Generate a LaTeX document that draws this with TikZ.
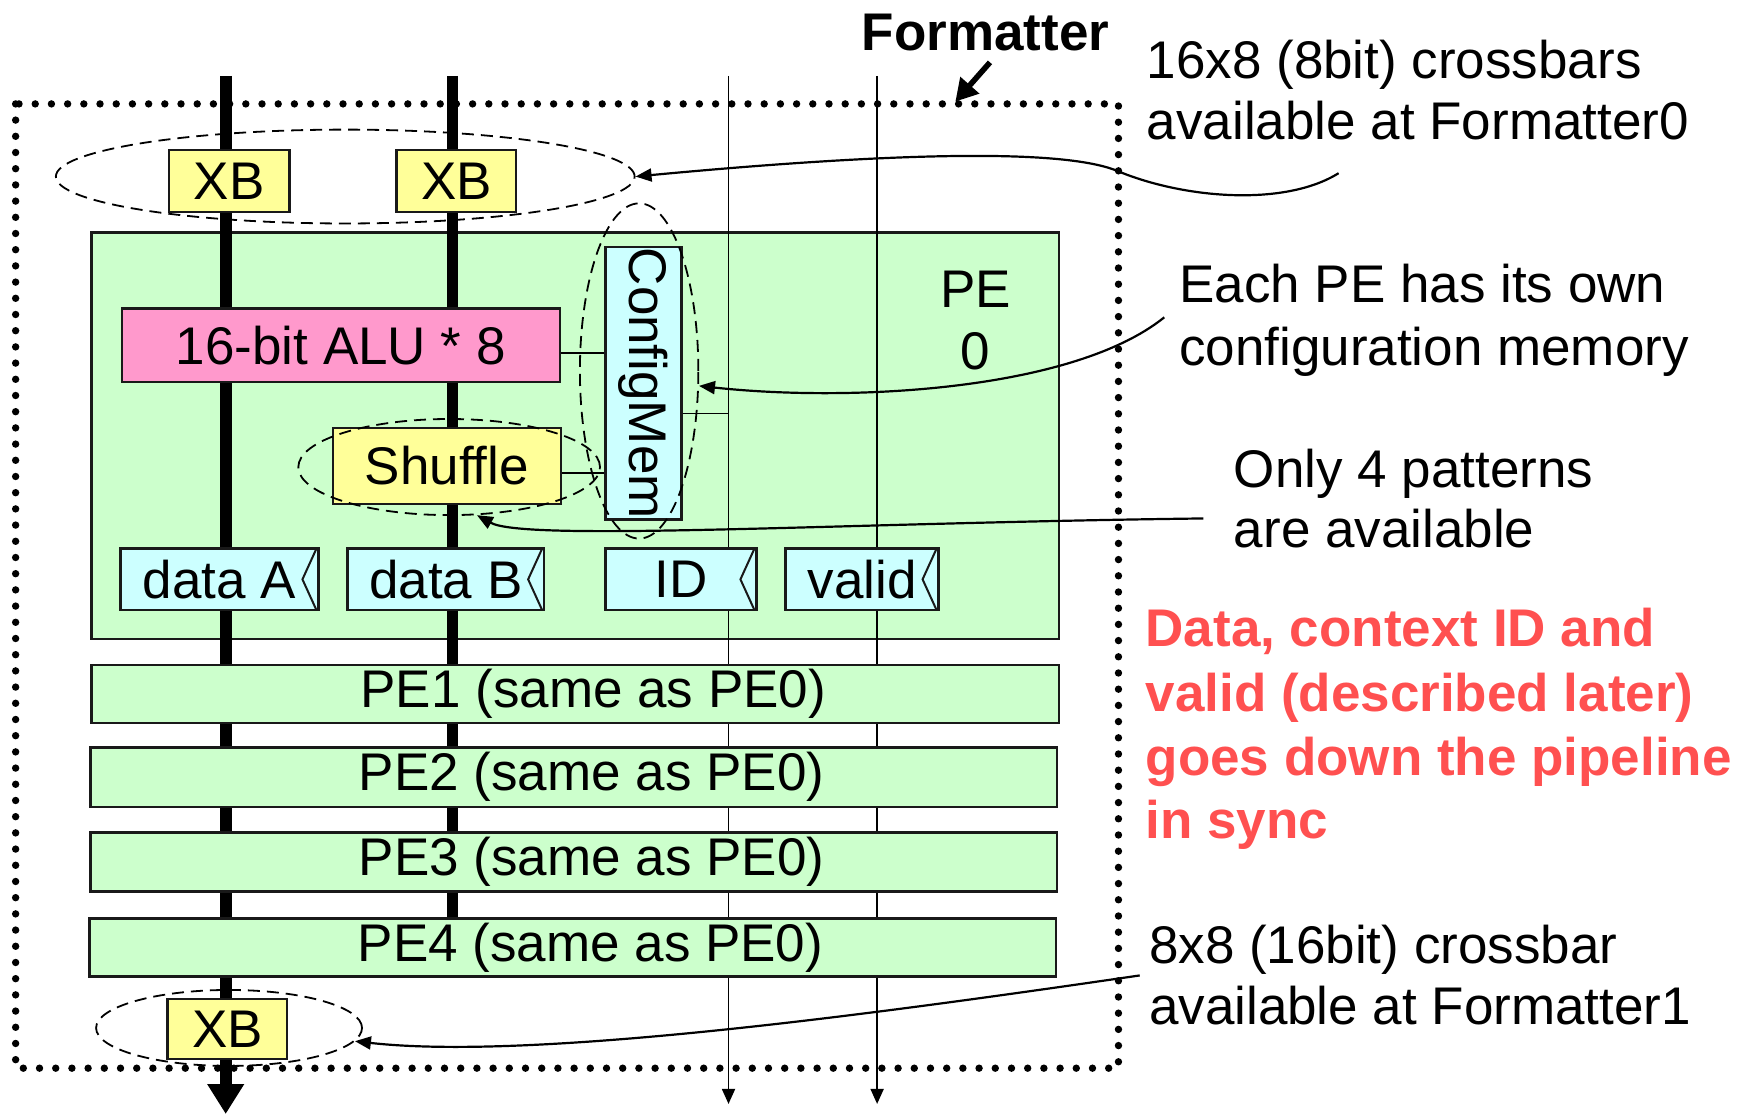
\documentclass[tikz,border=0pt]{standalone}
\usepackage{fontspec}
\setmainfont{Liberation Sans}
\usetikzlibrary{arrows.meta,shapes.geometric,calc}
\definecolor{peGreen}{HTML}{CCFFCC}
\definecolor{xbYellow}{HTML}{FFFF99}
\definecolor{aluPink}{HTML}{FF99CC}
\definecolor{memCyan}{HTML}{CCFFFF}
\definecolor{noteRed}{HTML}{FF5050}
\newcommand\txtfont{\fontsize{26.5}{31.3}\selectfont}
\begin{document}
\begin{tikzpicture}[x=0.5587pt,y=-0.5587pt,
  sz/.style 2 args={minimum width={#1*0.5587pt},minimum height={#2*0.5587pt}},
  box/.style={draw=black!90,line width=1.2pt,inner sep=0pt,font=\txtfont},
  clk/.style={path picture={\draw[line width=1pt] ([xshift=-1pt]path picture bounding box.north east) -- ([xshift=-8pt]path picture bounding box.east) -- ([xshift=-1pt]path picture bounding box.south east);}},
  bus/.style={line width=5.8pt},
  wire/.style={line width=0.9pt},
  note/.style={anchor=base west,inner sep=0pt,font=\txtfont},
  rednote/.style={anchor=base west,inner sep=0pt,font=\txtfont\bfseries,text=noteRed},
  grp/.style={ellipse,draw,dash pattern=on 6pt off 3.5pt,line width=0.9pt,inner sep=0pt},
  callout/.style={line width=1.1pt,-{Triangle[length=8pt,width=6.5pt]}},
  tiny tip/.style={-{Triangle[length=7.5pt,width=6.5pt]}}
]
\useasboundingbox (0,0) rectangle (1568,997);

% dotted Formatter border
\draw[line width=3.7pt,line cap=round,dash pattern=on 0pt off 8.1pt] (14,93) rectangle (1001,956);

% PE0 background
\node[box,fill=peGreen,sz={866}{364}] (pe0) at (515,390) {};
\node[font=\txtfont,align=center,inner sep=0pt] (pe0lbl) at (873,287) {PE\\0};

% buses and signal lines
\coordinate (aTop) at (202,68);  \coordinate (aBot) at (202,997);
\coordinate (bTop) at (405,68);  \coordinate (bBot) at (405,848);
\coordinate (idTop) at (652,68); \coordinate (idBot) at (652,988);
\coordinate (vTop) at (785,68);  \coordinate (vBot) at (785,988);
\draw[bus,-{Triangle[length=15pt,width=17.5pt]}] (aTop) -- (aBot);
\draw[bus] (bTop) -- (bBot);
\draw[wire,tiny tip] (idTop) -- (idBot);
\draw[wire,tiny tip] (vTop) -- (vBot);

% crossbars
\node[box,fill=xbYellow,sz={108}{56}] (xbA) at (205,162) {XB};
\node[box,fill=xbYellow,sz={107}{56}] (xbB) at (408.5,162) {XB};
\node[box,fill=xbYellow,sz={107}{54}] (xbC) at (203.5,921) {XB};

% PE0 internals
\node[box,fill=aluPink,sz={392}{66}] (alu) at (305,309) {16-bit ALU * 8};
\node[box,fill=memCyan,sz={244}{68},rotate=-90] (cfg) at (576,343) {ConfigMem};
\node[box,fill=xbYellow,sz={204}{68}] (shuf) at (400,417) {Shuffle};
\node[box,fill=memCyan,clk,sz={177}{55}] (dA) at (196.5,518.5) {data A};
\node[box,fill=memCyan,clk,sz={176}{55}] (dB) at (399,518.5) {data B};
\node[box,fill=memCyan,clk,sz={135}{55}] (dID) at (609.5,518.5) {ID};
\node[box,fill=memCyan,clk,sz={137}{55}] (dV) at (771.5,518.5) {valid};

\draw[wire] (alu.east) ++(0,7) coordinate (k1) -- (k1 -| cfg.south);
\draw[wire] (shuf.east) ++(0,6) coordinate (k2) -- (k2 -| cfg.south);
\draw[wire] (cfg.north) ++(0,27) coordinate (k3) -- (k3 -| idTop);

% other PEs
\node[box,fill=peGreen,sz={866}{52},label={[font=\txtfont,xshift=8.9pt]center:PE1 (same as PE0)}] (pe1) at (515,621) {};
\node[box,fill=peGreen,sz={865}{53},label={[font=\txtfont,xshift=8.9pt]center:PE2 (same as PE0)}] (pe2) at (513.5,695.5) {};
\node[box,fill=peGreen,sz={865}{53},label={[font=\txtfont,xshift=8.9pt]center:PE3 (same as PE0)}] (pe3) at (513.5,771.5) {};
\node[box,fill=peGreen,sz={865}{52},label={[font=\txtfont,xshift=8.9pt]center:PE4 (same as PE0)}] (pe4) at (512.5,848) {};

% dashed groupings
\node[grp,sz={518}{84}] (ell1) at (309,158) {};
\node[grp,sz={106}{300}] (ell2) at (572,332) {};
\node[grp,sz={270}{86}] (ell3) at (402,418) {};
\node[grp,sz={238}{68}] (ell4) at (205,920) {};

% Formatter label
\node[font=\txtfont\bfseries,anchor=base,inner sep=0pt] (fmt) at (882,45) {Formatter};
\coordinate (fmtTip) at (855,91);
\draw[line width=2.8pt,-{Triangle[length=11pt,width=12pt]}] ($(fmt.south)+(4,10)$) -- (fmtTip);

% notes
\node[note] (n1a) at (1026,70) {16x8 (8bit) crossbars};
\node[note] (n1b) at (1026,125) {available at Formatter0};
\node[note] (n2a) at (1055,271) {Each PE has its own};
\node[note] (n2b) at (1055,327) {configuration memory};
\node[note] (n3a) at (1104,436) {Only 4 patterns};
\node[note] (n3b) at (1104,490) {are available};
\node[rednote] (r1) at (1025,579) {Data, context ID and};
\node[rednote] (r2) at (1025,637) {valid (described later)};
\node[rednote] (r3) at (1025,694) {goes down the pipeline};
\node[rednote] (r4) at (1025,750) {in sync};
\node[note] (n4a) at (1028,862) {8x8 (16bit) crossbar};
\node[note] (n4b) at (1028,917) {available at Formatter1};

% callouts
\coordinate (c1) at (1198,155);
\draw[callout] (c1) .. controls (1150,185) and (1060,178) .. (1000,153) .. controls (945,130) and (760,140) .. (ell1.east);
\coordinate (c2) at (1042,284);
\draw[callout] (c2) .. controls (960,350) and (760,360) .. (ell2.-14);
\coordinate (c3) at (1077,464);
\draw[callout] (c3) .. controls (750,468) and (470,485) .. (ell3.-60);
\coordinate (c4) at (1020,873);
\draw[callout] (c4) .. controls (800,905) and (480,950) .. (ell4.-6);
\end{tikzpicture}
\end{document}
